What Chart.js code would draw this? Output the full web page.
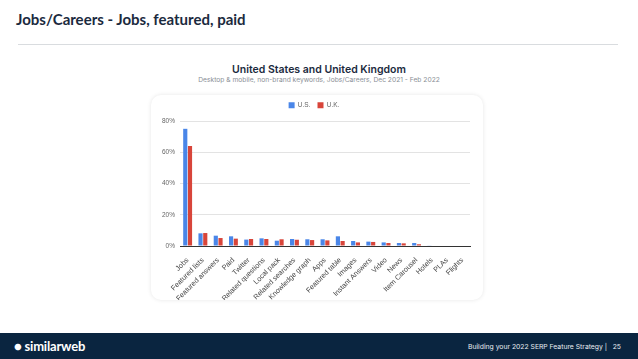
<!DOCTYPE html>
<html><head><meta charset="utf-8">
<script src="https://cdn.jsdelivr.net/npm/chart.js@4"></script>
<style>
html,body{margin:0;padding:0;background:#fff;width:638px;height:359px;overflow:hidden;font-family:Inter,"Noto Sans",sans-serif;}
#title{position:absolute;left:16px;top:10px;font-size:15px;font-weight:700;color:#1b2a3e;font-family:Lato,"Noto Sans",sans-serif;}
#rule{position:absolute;left:18px;top:44px;width:600px;height:1px;background:#d9dcdf;}
#ctitle{position:absolute;left:0;width:638px;top:63px;text-align:center;font-size:10.5px;font-weight:600;color:#1b2a3e;}
#csub{position:absolute;left:0;width:638px;top:76px;text-align:center;font-size:6.7px;color:#8a8f96;}
#card{position:absolute;left:151px;top:95px;width:332px;height:205px;border-radius:10px;background:#fff;box-shadow:0 0 4px rgba(0,0,0,0.10);}
#wrap{position:absolute;left:151px;top:95px;width:332px;height:205px;}
#footer{position:absolute;left:0;top:333px;width:638px;height:26px;background:#0a2540;}
#logo{position:absolute;left:14px;top:5px;color:#fff;font-size:13px;font-weight:700;font-family:Lato,"Noto Sans",sans-serif;letter-spacing:-0.2px;}
#ftxt{position:absolute;right:17px;top:9px;color:#e8ecf0;font-size:6.8px;}
</style></head><body>
<div id="title">Jobs/Careers - Jobs, featured, paid</div>
<div id="rule"></div>
<div id="ctitle">United States and United Kingdom</div>
<div id="csub">Desktop &amp; mobile, non-brand keywords, Jobs/Careers, Dec 2021 - Feb 2022</div>
<div id="card"></div>
<div id="wrap"><canvas id="c" width="332" height="205"></canvas></div>
<div id="footer"><div id="logo">&#9679; similarweb</div><div id="ftxt">Building your 2022 SERP Feature Strategy |&nbsp;&nbsp; 25</div></div>
<script>
const categories = ["Jobs","Featured lists","Featured answers","Paid","Twitter","Related questions","Local pack","Related searches","Knowledge graph","Apps","Featured table","Images","Instant Answers","Video","News","Item Carousel","Hotels","PLAs","Flights"];
const usValues = [75, 8.1, 6.6, 6.2, 4.1, 4.9, 3.4, 4.5, 4.3, 4.3, 6.2, 3.2, 2.8, 2.3, 1.9, 1.9, 0.4, 0, 0];
const ukValues = [64, 8.3, 5.1, 4.7, 4.5, 4.5, 4.3, 4.0, 3.8, 3.6, 3.2, 2.3, 2.6, 1.9, 1.7, 1.1, 0, 0, 0];
const yTicks = [0, 20, 40, 60, 80];

const legendHeight = {
  id: 'legendHeight',
  beforeInit(chart) {
    const lg = chart.legend;
    if (!lg) return;
    const fit = lg.fit;
    lg.fit = function() { fit.call(this); this.height = 26; };
  }
};

new Chart(document.getElementById('c'), {
  type: 'bar',
  data: {
    labels: categories,
    datasets: [
      {label: 'U.S.', data: usValues, backgroundColor: '#4a86e8', categoryPercentage: 0.62, barPercentage: 0.88},
      {label: 'U.K.', data: ukValues, backgroundColor: '#d8453a', categoryPercentage: 0.62, barPercentage: 0.88}
    ]
  },
  plugins: [legendHeight],
  options: {
    responsive: false,
    animation: false,
    devicePixelRatio: 1,
    layout: {padding: {left: 7, right: 13, top: 0, bottom: 0}},
    plugins: {
      legend: {
        position: 'top',
        labels: {boxWidth: 6, boxHeight: 6, padding: 7, color: '#666', font: {family: 'Liberation Sans', size: 6.5}}
      },
      tooltip: {enabled: false}
    },
    scales: {
      x: {
        afterFit: (s) => { s.height = 54; },
        grid: {display: false},
        border: {color: '#333', width: 1},
        ticks: {minRotation: 45, maxRotation: 45, color: '#444', font: {family: 'Liberation Sans', size: 7.2}, padding: 2, autoSkip: false}
      },
      y: {
        min: 0, max: 80,
        afterFit: (s) => { s.width = 22; },
        afterBuildTicks: (s) => { s.ticks = yTicks.map(v => ({value: v})); },
        grid: {color: '#e3e3e3', drawTicks: false},
        border: {display: false},
        ticks: {color: '#666', font: {family: 'Liberation Sans', size: 6.5}, padding: 5, callback: v => v + '%'}
      }
    }
  }
});
</script>
</body></html>
